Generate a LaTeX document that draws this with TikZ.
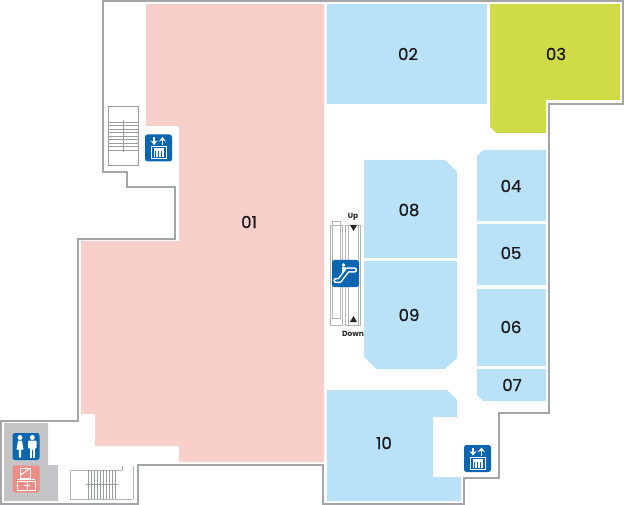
\documentclass[tikz,border=0pt]{standalone}
\usepackage{fontspec}
\setmainfont{Poppins}
\newfontfamily\roomfont[FakeBold=0.7]{Poppins}
\usetikzlibrary{arrows.meta}
\definecolor{wallc}{HTML}{A3A5A9}
\definecolor{pinkc}{HTML}{F8CFCB}
\definecolor{bluec}{HTML}{B9E1F7}
\definecolor{greenc}{HTML}{CFDC47}
\definecolor{iconb}{HTML}{0B66B0}
\definecolor{iconp}{HTML}{F08C86}
\definecolor{grayz}{HTML}{C4C4C6}
\definecolor{stairc}{HTML}{9A9C9F}
\definecolor{escc}{HTML}{B5B6B8}
\tikzset{
  x=1pt,y=-1pt,
  wall/.style={draw=wallc,line width=1.7pt,line join=miter},
  roompink/.style={fill=pinkc},
  roomblue/.style={fill=bluec},
  roomgreen/.style={fill=greenc},
  roomlabel/.style={font=\roomfont\fontsize{16.5}{16.5}\selectfont,text=black!90,inner sep=0pt},
  smalllabel/.style={font=\fontsize{7.5}{8}\selectfont\bfseries,text=black!85,inner sep=0pt},
  stairline/.style={draw=stairc,line width=.8pt},
  escline/.style={draw=escc,line width=.7pt},
  iconbox/.style={rounded corners=2.5pt,line width=0pt},
  iconline/.style={draw=white,line width=1pt},
  pics/lifticon/.style={code={
    \fill[iconb,iconbox] (-13.5,-13.5) rectangle (13.5,13.5);
    \draw[iconline,line width=1.6pt,-{Stealth[length=4.5pt,width=7pt]}] (-4.5,-11) -- (-4.5,-3);
    \draw[iconline,line width=1.6pt,-{Stealth[length=4.5pt,width=7pt]}] (4,-3) -- (4,-11);
    \draw[iconline] (-7,-1.5) rectangle (7.5,10.5);
    \fill[white] (-5,.5) rectangle (5.5,3.5);
    \foreach \k in {-4.2,-1.4,1.4,4.2}{\fill[white] (\k+.25-.9,1) rectangle (\k+.25+.9,9.5);}
  }},
  pics/personicons/.style={code={
    \fill[iconb,iconbox] (-13.5,-13.5) rectangle (13.5,13.5);
    \fill[white] (-6,-9) circle (2.5);
    \fill[white] (-8,-6) -- (-4,-6) -- (-2.5,3) -- (-4.8,3) -- (-4.8,11) -- (-7.2,11) -- (-7.2,3) -- (-9.5,3) -- cycle;
    \fill[white] (6.3,-9) circle (2.5);
    \fill[white,rounded corners=1pt] (2,-6) rectangle (10.6,2);
    \fill[white] (3.6,-5) rectangle (9,11);
    \draw[iconb,line width=.4pt] (6.3,3) -- (6.3,11);
  }},
  pics/careicon/.style={code={
    \fill[iconp,iconbox] (-13.5,-13.5) rectangle (13.5,13.5);
    \draw[iconline] (-5.3,-11) rectangle (4.5,-1);
    \draw[iconline] (-5.3,-4) -- (4.5,-11);
    \draw[iconline] (-8.7,2) rectangle (9,11);
    \draw[iconline] (-8.7,.5) -- (9,.5);
    \draw[iconline] (1,2) -- (1,11) (-2,6) -- (4,6);
  }},
  pics/escalatoricon/.style={code={
    \fill[iconb,iconbox] (-13.5,-13.5) rectangle (13.5,13.5);
    \fill[white] (-2,-8.5) circle (1.8);
    \fill[white] (-4,-6.5) rectangle (0,-.5);
    \draw[white,line width=5.4pt,line cap=round,line join=round] (-9.5,7) -- (-6,7) -- (2,-3.5) -- (9,-3.5);
    \draw[iconb,line width=2.4pt,line cap=round,line join=round] (-9.5,7) -- (-6,7) -- (2,-3.5) -- (9,-3.5);
  }},
}
\begin{document}
\begin{tikzpicture}
\useasboundingbox (0,0) rectangle (624,505);
\fill[white] (0,0) rectangle (624,505);
% rooms
\fill[roompink] (146,4) -- (324,4) -- (324,462) -- (179,462) -- (179,446) -- (95,446) -- (95,414) -- (81,414) -- (81,241) -- (179,241) -- (179,126) -- (146,126) -- cycle;
\fill[roomblue] (327,4) rectangle (487,104);
\fill[roomgreen] (490,4) -- (620,4) -- (620,100) -- (546,100) -- (546,133) -- (496,133) -- (490,127) -- cycle;
\fill[roomblue] (483,150) -- (546,150) -- (546,221) -- (477,221) -- (477,156) -- cycle;
\fill[roomblue] (477,224) rectangle (546,285);
\fill[roomblue] (477,289) rectangle (546,366);
\fill[roomblue] (477,369) -- (546,369) -- (546,401) -- (483,401) -- (477,395) -- cycle;
\fill[roomblue] (364,160) -- (445,160) -- (457,172) -- (457,258) -- (364,258) -- cycle;
\fill[roomblue] (364,261) -- (457,261) -- (457,358) -- (445,369) -- (376,369) -- (364,357) -- cycle;
\fill[roomblue] (327,390) -- (447,390) -- (457,400) -- (457,417) -- (433,417) -- (433,477) -- (461,477) -- (461,501) -- (327,501) -- cycle;
% grey zone
\fill[grayz] (4,423) -- (48,423) -- (48,465) -- (58,465) -- (58,501) -- (4,501) -- cycle;
% outer wall
\draw[wall] (103,1) -- (623,1) -- (623,104) -- (549,104) -- (549,413) -- (499,413) -- (499,478) -- (464,478) -- (464,504) -- (323,504) -- (323,465) -- (138,465) -- (138,504) -- (1,504) -- (1,421) -- (78,421) -- (78,239) -- (175,239) -- (175,187) -- (127,187) -- (127,172) -- (103,172) -- cycle;
% top-left stairs
\draw[stairline] (108,106) rectangle (138,165);
\foreach \yy in {122,125.5,129,132.5,136,139.5,143,146.5,150}{\draw[stairline] (108,\yy) -- (138,\yy);}
\draw[stairline] (123,120) -- (123,152);
% bottom-left stairs
\draw[escline] (133,499) -- (70,499) -- (70,470) -- (122,470) -- (122,466) (133,466) -- (133,499);
\foreach \xx in {88,91,94,97,100,103,106,109,112,115}{\draw[stairline] (\xx,470) -- (\xx,499);}
\draw[stairline] (86,484) -- (118,484);
% escalator
\draw[escline] (330,225) rectangle (342.7,325);
\draw[escline] (332.7,221) rectangle (340.7,318);
\draw[escline] (345.3,225) rectangle (360.5,325);
\draw[escline] (348,225) -- (348,325) (358.3,225) -- (358.3,325);
\fill[black!85] (350,225) -- (357,225) -- (353.5,231) -- cycle;
\fill[black!85] (350,322) -- (357,322) -- (353.5,316) -- cycle;
\node[smalllabel] (up) at (353,217) {Up};
\node[smalllabel] (down) at (353,334) {Down};
% icons
\pic at (158.5,148) {lifticon};
\pic at (477.5,458.5) {lifticon};
\pic at (345.5,273.5) {escalatoricon};
\pic at (26,446.5) {personicons};
\pic at (26,479) {careicon};
% labels
\node[roomlabel] (r01) at (249,222) {01};
\node[roomlabel] (r02) at (408,54) {02};
\node[roomlabel] (r03) at (556,54) {03};
\node[roomlabel] (r04) at (511,186) {04};
\node[roomlabel] (r05) at (511,253) {05};
\node[roomlabel] (r06) at (511,327) {06};
\node[roomlabel] (r07) at (512,385) {07};
\node[roomlabel] (r08) at (409,210) {08};
\node[roomlabel] (r09) at (409,315) {09};
\node[roomlabel] (r10) at (384,443) {10};
\end{tikzpicture}
\end{document}
